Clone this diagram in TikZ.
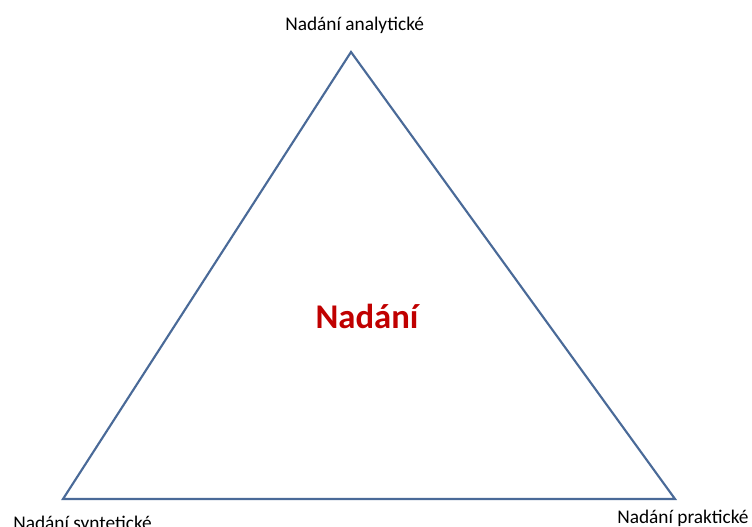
\documentclass[tikz,border=0pt]{standalone}
\usepackage{fontspec}
\setmainfont{Carlito}
\definecolor{hranablue}{HTML}{4A6A98}
\definecolor{nadanired}{HTML}{C00000}
\begin{document}
\begin{tikzpicture}[x=0.75pt,y=-0.75pt,
    vrchol/.style={font=\fontsize{14.5}{17}\selectfont,inner sep=0pt},
    hrana/.style={draw=hranablue,line width=1.6pt,line join=miter}]

                \useasboundingbox (0,0) rectangle (752,527);
                \coordinate (A) at (351,52);
                \coordinate (S) at (63,499);
                \coordinate (P) at (675,499);

                \draw [hrana] (A)--(P)--(S)--cycle;

                \node [vrchol,anchor=base west] (analyticke) at (285,31) {Nadání analytické};
                \node [vrchol,anchor=base west] (synteticke) at (13,529) {Nadání syntetické};
                \node [vrchol,anchor=base west] (prakticke) at (617,523) {Nadání praktické};

                \node [font=\fontsize{26}{31}\selectfont\bfseries,text=nadanired] (nadani) at (367,316) {Nadání};
            \end{tikzpicture}
\end{document}
